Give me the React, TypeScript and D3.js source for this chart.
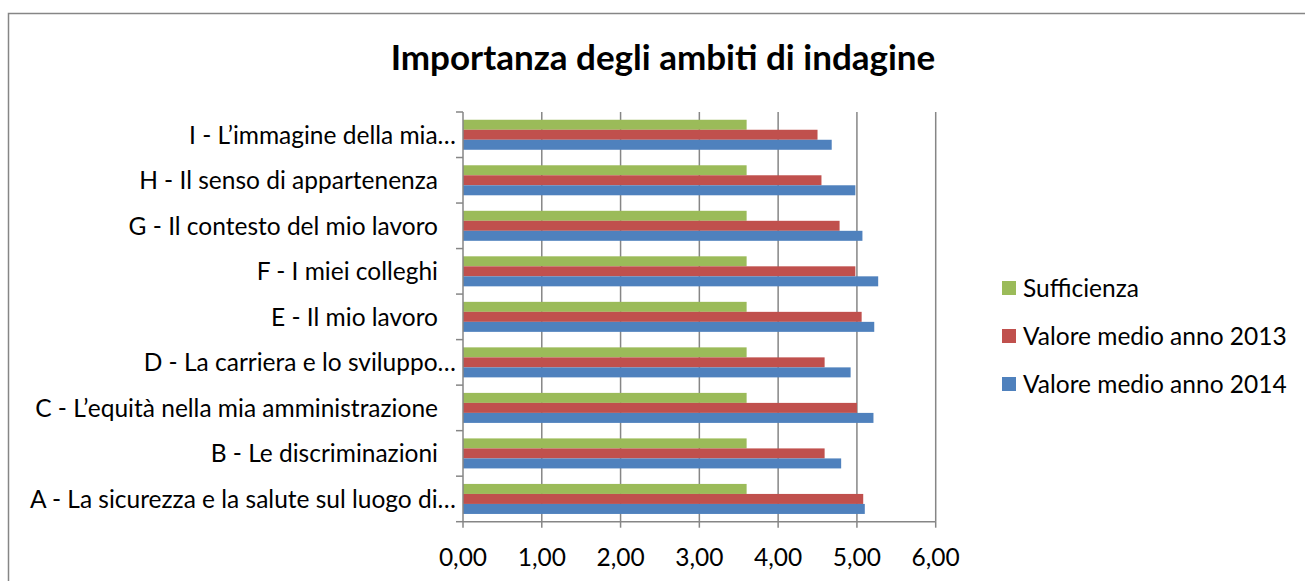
import React from "react";
import * as d3 from "d3";

const categories = [
  "A - La sicurezza e la salute sul luogo di…",
  "B - Le discriminazioni",
  "C - L’equità nella mia amministrazione",
  "D - La carriera e lo sviluppo…",
  "E - Il mio lavoro",
  "F - I miei colleghi",
  "G - Il contesto del mio lavoro",
  "H - Il senso di appartenenza",
  "I - L’immagine della mia…",
];
const sufficienza = [3.6, 3.6, 3.6, 3.6, 3.6, 3.6, 3.6, 3.6, 3.6];
const valore2013 = [5.08, 4.59, 5.0, 4.59, 5.06, 4.98, 4.78, 4.55, 4.5];
const valore2014 = [5.1, 4.8, 5.21, 4.92, 5.22, 5.27, 5.07, 4.98, 4.68];
const xTicks = [0, 1, 2, 3, 4, 5, 6];
const seriesNames = ["Sufficienza", "Valore medio anno 2013", "Valore medio anno 2014"];
const seriesColors = ["#9BBB59", "#C0504D", "#4F81BD"];
const seriesData = [sufficienza, valore2013, valore2014];

const FONT = "Lato, 'Open Sans', sans-serif";

export default function App() {
  const W = 1305;
  const H = 581;
  const left = 463;
  const right = 935.7;
  const top = 112;
  const bottom = 521.7;

  const x = d3.scaleLinear().domain([0, 6]).range([left, right]);
  const y = d3
    .scaleBand<string>()
    .domain([...categories].reverse())
    .range([top, bottom])
    .padding(0);
  const inner = d3
    .scaleBand<string>()
    .domain(seriesNames)
    .range([0, y.bandwidth()])
    .paddingInner(0)
    .paddingOuter(0.775);

  const fmt = (v: number) => d3.format(".2f")(v).replace(".", ",");
  const gridColor = "#868686";
  const labelSize = 24.5;

  return (
    <svg
      width={W}
      height={H}
      style={{ position: "absolute", left: 0, top: 0, background: "#fff" }}
    >
      <rect x={8.5} y={13.5} width={1400} height={700} fill="#fff" stroke={gridColor} strokeWidth={1.5} />
      <text
        x={663}
        y={70}
        textAnchor="middle"
        fontFamily={FONT}
        fontWeight="bold"
        fontSize={35}
        fill="#000"
      >
        Importanza degli ambiti di indagine
      </text>

      {xTicks.slice(1).map((t) => (
        <line key={"g" + t} x1={x(t)} x2={x(t)} y1={top} y2={bottom} stroke={gridColor} strokeWidth={1.5} />
      ))}

      {categories.map((c, i) =>
        seriesNames.map((s, j) => (
          <rect
            key={c + s}
            x={x(0)}
            y={(y(c) as number) + (inner(s) as number)}
            width={x(seriesData[j][i]) - x(0)}
            height={inner.bandwidth()}
            fill={seriesColors[j]}
          />
        ))
      )}

      <line x1={left} x2={left} y1={top} y2={bottom} stroke={gridColor} strokeWidth={1.5} />
      {[...y.domain(), "end"].map((c, i) => {
        const yy = i < categories.length ? (y(c) as number) : bottom;
        return <line key={"yt" + i} x1={left - 7} x2={left} y1={yy} y2={yy} stroke={gridColor} strokeWidth={1.5} />;
      })}
      {categories.map((c) => (
        <text
          key={"l" + c}
          x={c.endsWith("…") ? 456 : 438}
          y={(y(c) as number) + y.bandwidth() / 2 + 9}
          textAnchor="end"
          fontFamily={FONT}
          fontSize={labelSize}
          fill="#000"
        >
          {c}
        </text>
      ))}

      <line x1={left} x2={right} y1={bottom} y2={bottom} stroke={gridColor} strokeWidth={1.5} />
      {xTicks.map((t) => (
        <g key={"xt" + t}>
          <line x1={x(t)} x2={x(t)} y1={bottom} y2={bottom + 6} stroke={gridColor} strokeWidth={1.5} />
          <text x={x(t)} y={566} textAnchor="middle" fontFamily={FONT} fontSize={labelSize} fill="#000">
            {fmt(t)}
          </text>
        </g>
      ))}

      {seriesNames.map((s, j) => (
        <g key={"lg" + s} transform={`translate(1002, ${281 + j * 48})`}>
          <rect x={0} y={0} width={14} height={14} fill={seriesColors[j]} />
          <text x={21} y={16} fontFamily={FONT} fontSize={labelSize} fill="#000">
            {s}
          </text>
        </g>
      ))}
    </svg>
  );
}
